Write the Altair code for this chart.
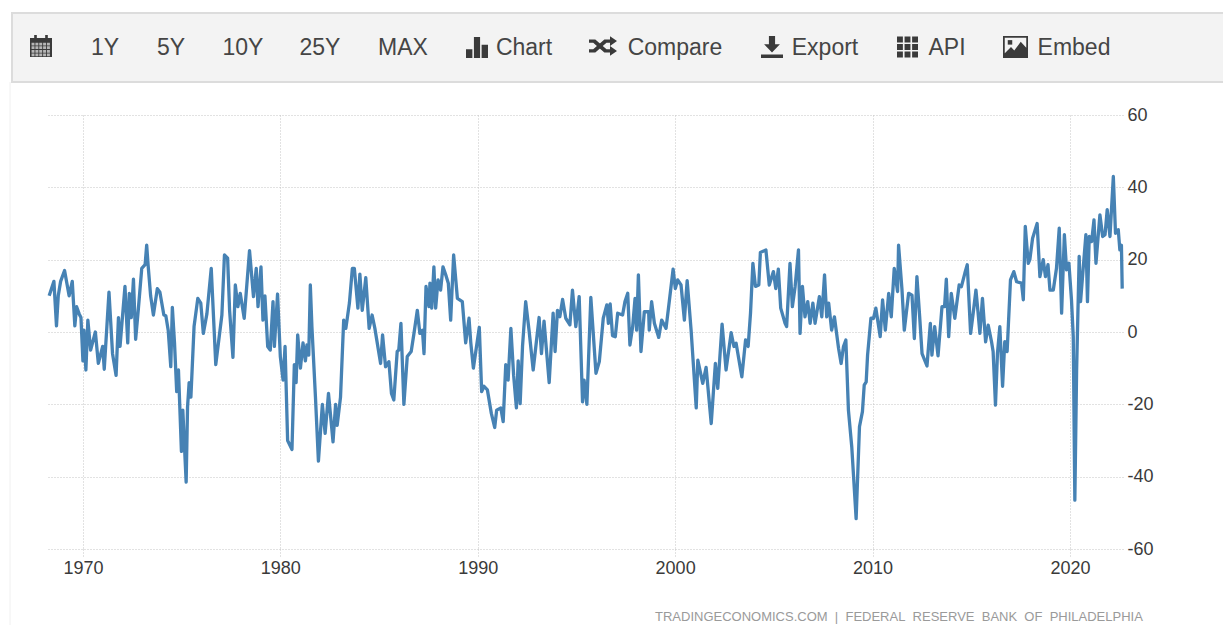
import altair as alt
import pandas as pd

years = [
1968.29,1968.53,1968.66,1968.75,1968.87,1969.07,1969.3,1969.46,1969.59,1969.68,1969.81,1969.9,1970.0,1970.05,1970.15,1970.25,1970.39,1970.63,1970.78,1971.0,1971.08,1971.32,1971.5,1971.68,1971.8,1971.88,1972.13,1972.27,1972.35,1972.45,1972.56,1972.67,1972.81,1972.98,1973.15,1973.23,1973.3,1973.43,1973.57,1973.77,1973.9,1974.1,1974.2,1974.32,1974.45,1974.53,1974.64,1974.75,1974.84,1974.99,1975.06,1975.23,1975.3,1975.38,1975.47,1975.63,1975.82,1975.97,1976.1,1976.28,1976.5,1976.73,1977.04,1977.17,1977.33,1977.43,1977.6,1977.72,1977.85,1977.97,1978.17,1978.44,1978.64,1978.78,1978.87,1979.02,1979.12,1979.22,1979.36,1979.49,1979.63,1979.7,1979.86,
1980.0,1980.14,1980.24,1980.37,1980.59,1980.71,1980.8,1980.88,1981.02,1981.15,1981.27,1981.35,1981.44,1981.52,1981.6,1981.78,1981.93,1982.13,1982.27,1982.44,1982.67,1982.8,1982.88,1983.05,1983.21,1983.32,1983.5,1983.65,1983.75,1983.93,1984.03,1984.15,1984.33,1984.5,1984.65,1984.79,1985.08,1985.18,1985.33,1985.5,1985.63,1985.75,1985.92,1986.0,1986.11,1986.26,1986.43,1986.63,1986.77,1986.94,1987.07,1987.2,1987.28,1987.38,1987.53,1987.58,1987.67,1987.78,1987.87,1987.99,1988.12,1988.24,1988.38,1988.51,1988.63,1988.78,1988.97,1989.22,1989.39,1989.56,1989.65,1989.78,1990.08,1990.2,1990.32,1990.49,1990.69,1990.86,1990.96,1991.17,1991.29,1991.42,1991.54,1991.68,1991.82,1991.96,1992.05,1992.15,
1992.27,1992.43,1992.6,1992.81,1993.11,1993.23,1993.36,1993.62,1993.82,1993.92,1994.04,1994.16,1994.3,1994.46,1994.67,1994.8,1994.97,1995.14,1995.31,1995.39,1995.53,1995.73,1995.99,1996.16,1996.36,1996.54,1996.62,1996.71,1996.83,1996.97,1997.09,1997.34,1997.46,1997.6,1997.71,1997.85,1997.97,1998.05,1998.14,1998.27,1998.44,1998.66,1998.69,1998.81,1998.95,1999.17,1999.32,1999.54,1999.71,1999.9,2000.01,2000.13,2000.3,2000.47,2000.61,2000.81,2001.07,2001.15,2001.4,2001.57,2001.83,2002.04,2002.16,2002.38,2002.58,2002.84,2002.98,2003.09,2003.38,2003.57,2003.7,2003.82,2003.94,2004.07,2004.24,2004.32,
2004.6,2004.77,2004.98,2005.1,2005.23,2005.35,2005.57,2005.65,2005.82,2005.94,2006.08,2006.25,2006.33,2006.45,2006.58,2006.72,2006.84,2006.98,2007.09,2007.31,2007.43,2007.57,2007.68,2007.78,2007.93,2008.07,2008.28,2008.41,2008.53,2008.65,2008.78,2008.95,2009.17,2009.34,2009.49,2009.58,2009.68,2009.75,2009.92,2010.05,2010.17,2010.39,2010.51,2010.65,2010.82,2010.95,2011.1,2011.27,2011.32,2011.49,2011.61,2011.83,2012.0,2012.12,2012.25,2012.39,2012.51,2012.76,2012.93,2013.01,2013.15,2013.32,2013.52,2013.65,2013.74,2013.86,2013.99,2014.17,
2014.39,2014.5,2014.68,2014.8,2014.97,2015.1,2015.24,2015.35,2015.44,2015.57,2015.73,2015.86,2016.03,2016.11,2016.23,2016.33,2016.45,2016.59,2016.7,2016.82,2016.99,2017.16,2017.3,2017.55,2017.64,2017.74,2017.89,2017.97,2018.11,2018.34,2018.48,2018.65,2018.76,2018.89,2018.99,2019.16,2019.32,2019.46,2019.58,2019.72,2019.83,2019.95,2020.08,2020.17,2020.25,2020.34,2020.47,2020.54,2020.64,2020.81,2020.89,2020.98,2021.1,2021.22,2021.32,2021.52,2021.66,2021.78,2021.89,2022.03,2022.2,2022.31,2022.45,2022.53,2022.61,2022.65]

values = [
10,14,1.7,10,14,17,10,14,1.7,7,5,4,-8,0.5,-10.5,3.3,-5,0,-8.7,-4,-10.3,11,-6,-12,4,-4,12.6,-3,10.7,4,14.6,-2,6.5,17.6,18.6,24,18.6,10,4.7,12,11,4.7,4.5,0.5,-9.6,6.8,-3,-16.5,-10.5,-33,-21.6,-41.5,-20.7,-14,-18,1.5,9.3,8,-0.4,5,17.6,-9,4.7,21.3,20.4,6,-7,13,7,10.7,3.8,22.5,9.8,17.6,7,18,3.3,10,-4,-5,8.4,-4,10.5,
-6.8,-13.3,-4,-30,-32.5,-9,-14,-0.8,-10,-3,-8,-3.6,-6.4,13,1.5,-18,-35.7,-20,-28,-17,-30.4,-20,-25.8,-18,3.3,1,8,17.6,17.6,6.6,16,6,15,1,4.7,1,-8.7,-0.8,-9.6,-8.2,-17,-18.8,-5.4,-5,2.4,-20,-6.8,-5.4,-0.4,6,-0.4,0.5,-6,12.6,7,13.5,6.6,18,6.6,14.4,11.6,18,15.8,13.5,3.3,21.3,9.3,8.4,-3,3.8,-3,-10,1.3,-16.5,-15,-16,-22.5,-26.4,-21.6,-21,-24.8,-9,-13.3,1,-12,-21,-8,-19.8,
-4,8.4,0.5,-10.5,4,-6,3,-14,5.2,-5.4,6,4.2,9,3.8,2,11.6,1.5,9.8,-19.3,-13.3,-20,9.6,-11.4,-8.2,3.8,7.5,2.4,7.8,-1,-1.3,5.2,4.7,8.4,10.7,-3.6,1.5,9.3,0.5,15.8,-5.4,5.6,5.6,0.5,8.4,2.4,-1.5,3.3,1,8.7,17.4,12,14.4,13,3.3,14.2,0.5,-21,-7.8,-14.2,-9.8,-25.3,-8.7,-15.6,2.2,-10.5,-0.2,-4,-3.1,-12.4,-2.2,-4,5.2,19,12.6,13,22,
22.7,13,16.7,12,17.4,6.6,2.4,1.5,19,7,12.6,22.7,-0.4,12.6,4.2,8.4,2.4,8,2.4,9.8,4.2,15.8,4.2,8,0.5,4.2,-4.5,-8.7,-4,-2.2,-21.6,-31.8,-51.6,-26.2,-22,-14.7,-13.8,-6.4,3.8,3.8,6.6,-1.3,8.9,0.5,10.7,4.2,17.6,11.2,24,12,0.5,10.7,10.2,-1.8,15.3,4.2,-6,-9.4,2.4,-6.4,1.5,-6.6,7,7,14.6,-1.3,10.7,3.8,
13,12.5,16.3,18.6,-0.4,5.2,11.6,5.2,-0.4,9.3,-2.7,1.9,-2.7,-5.4,-20.2,-5.9,1.5,-15,-2.7,-5.4,14.4,16.7,13.9,13.5,8.9,29.2,19,20,25.9,30,15.3,20,15.3,18.6,11.6,11.6,17.6,28.7,5.2,26.9,17.2,19,8.9,-1.3,-46.5,-10.5,20.9,8.4,15.3,26.9,8.4,26.4,25,31,19,32.4,26.4,26.9,33.8,26.4,43,27.3,28.3,22.7,24,12]

x_ticks = [1970, 1980, 1990, 2000, 2010, 2020]
y_ticks = [-60, -40, -20, 0, 20, 40, 60]
menu_labels = ["1Y", "5Y", "10Y", "25Y", "MAX", "Chart", "Compare", "Export", "API", "Embed"]
source_text = "TRADINGECONOMICS.COM\u00a0\u00a0|\u00a0\u00a0FEDERAL\u00a0\u00a0RESERVE\u00a0\u00a0BANK\u00a0\u00a0OF\u00a0\u00a0PHILADELPHIA"

n = min(len(years), len(values))
data = pd.DataFrame({"year": years[:n], "value": values[:n]})
one = pd.DataFrame({"a": [0]})

OX, OY = 47, 115  # page position of the plot origin
FONT = "Liberation Sans"
DARK = "#3a3a3a"


def menu(text, cx):
    return alt.Chart(one).mark_text(
        text=text, font=FONT, fontSize=23, color="#454545", align="center", baseline="middle"
    ).encode(x=alt.value(cx - OX), y=alt.value(48 - OY))


def icon(path, cx, cy, w, color=DARK):
    return alt.Chart(one).mark_point(
        shape=path, filled=True, size=w * w, color=color, opacity=1, strokeWidth=0
    ).encode(x=alt.value(cx - OX), y=alt.value(cy - OY))


bar = alt.Chart(one).mark_rect(color="#f3f3f3", stroke="#dcdcdc", strokeWidth=2).encode(
    x=alt.value(12 - OX), x2=alt.value(1260 - OX), y=alt.value(13 - OY), y2=alt.value(82 - OY)
)
edge = alt.Chart(one).mark_rule(color="#f0f0f0", strokeWidth=1).encode(
    x=alt.value(10 - OX), y=alt.value(82 - OY), y2=alt.value(625 - OY)
)

cal = "M-1 -0.72H-0.62V-1H-0.38V-0.72H0.38V-1H0.62V-0.72H1V1H-1Z"
cal_cells = "".join(
    f"M{-0.86 + i * 0.35:.2f} {-0.3 + j * 0.33:.2f}h0.27v0.25h-0.27Z" for i in range(5) for j in range(4)
)
chart_ic = "M-1 1V0.2H-0.42V1Z M-0.28 1V-0.9H0.28V1Z M0.42 1V-0.2H1V1Z"
shuffle_a = "M-1 -0.47H-0.55L0.25 0.24H0.5V0L1 0.35L0.5 0.7V0.47H0.1L-0.7 -0.24H-1Z"
shuffle_b = "M-1 0.47H-0.55L0.25 -0.24H0.5V0L1 -0.35L0.5 -0.7V-0.47H0.1L-0.7 0.24H-1Z"
export = "M-0.28 -1H0.28V-0.25H0.72L0 0.5L-0.72 -0.25H-0.28Z M-1 0.68H1V1H-1Z"
api = "".join(
    f"M{-1 + i * 0.72:.2f} {-1 + j * 0.72:.2f}h0.56v0.56h-0.56Z" for i in range(3) for j in range(3)
)
embed = "M-1 -0.88H1V0.88H-1Z"
embed_in = ("M-0.86 -0.74H0.86V0.05L0.42 -0.42L-0.1 0.28L-0.36 0L-0.86 0.5Z")
embed_sun = "M-0.62 -0.55h0.36v0.36h-0.36Z"

cx_menu = [105, 171, 243, 320, 403, 524, 675, 825, 947, 1074]
deco = [bar, edge]
deco += [menu(t, c) for t, c in zip(menu_labels, cx_menu)]
deco += [
    icon(cal, 41, 46, 22),
    icon(cal_cells, 41, 46, 22, "#b5b5b5"),
    icon(chart_ic, 477, 47, 22),
    icon(shuffle_a, 603, 46, 28),
    icon(shuffle_b, 603, 46, 28),
    icon(export, 772, 47, 22),
    icon(api, 907.5, 47, 21),
    icon(embed, 1015.5, 47, 25),
    icon(embed_in, 1015.5, 47, 25, "#f3f3f3"),
    icon(embed_sun, 1015.5, 47, 25),
]

footer = alt.Chart(one).mark_text(
    text=source_text, font=FONT, fontSize=13, color="#9a9a9a", align="left", baseline="middle"
).encode(x=alt.value(655 - OX), y=alt.value(617 - OY))

line = alt.Chart(data).mark_line(color="#4682b4", strokeWidth=3.3, interpolate="linear", strokeJoin="round").encode(
    x=alt.X(
        "year:Q",
        scale=alt.Scale(domain=[1968.18, 2022.69], nice=False, zero=False),
        axis=alt.Axis(
            values=x_ticks, title=None, domain=False, grid=True,
            labelExpr="toString(datum.value)",
            gridColor="#c4c4c4", gridDash=[1, 2], gridWidth=1,
            ticks=True, tickColor="#c4c4c4", tickDash=[1, 2], tickSize=9,
            labelFont=FONT, labelFontSize=18, labelColor="#3a3a3a", labelPadding=1, labelFlush=False,
        ),
    ),
    y=alt.Y(
        "value:Q",
        scale=alt.Scale(domain=[-60, 60], nice=False, zero=False),
        axis=alt.Axis(
            orient="right", values=y_ticks, title=None, domain=False, grid=True,
            labelExpr="toString(datum.value)",
            gridColor="#c4c4c4", gridDash=[1, 2], gridWidth=1, ticks=False,
            labelFont=FONT, labelFontSize=18, labelColor="#3a3a3a", labelPadding=4,
        ),
    ),
)

chart = alt.layer(line, *deco, footer).properties(
    width=1076,
    height=434,
    padding={"left": OX - 8, "top": OY - 8, "right": 100, "bottom": 76},
    autosize=alt.AutoSizeParams(type="none"),
    background="white",
).configure_view(stroke=None)

chart.save("out.html", embed_options={"renderer": "svg", "actions": False})
